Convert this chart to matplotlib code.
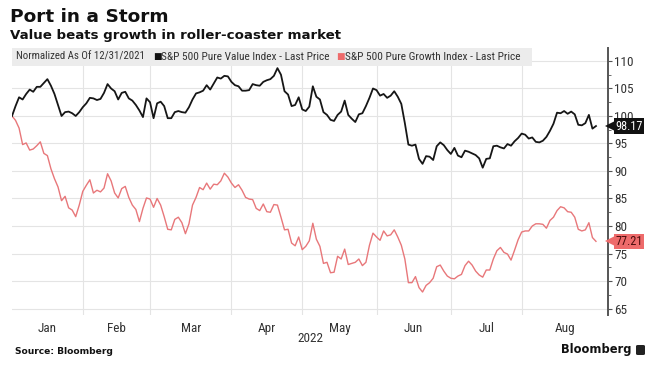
import matplotlib
matplotlib.use("Agg")
import matplotlib.pyplot as plt
from matplotlib import font_manager
from matplotlib.patches import Rectangle, FancyBboxPatch
import numpy as np

# ---------------- data (normalized to 100 at 12/31/2021, one value per trading day) -------------
value_index = [
    100, 101.8, 103.4, 103, 104, 104.8, 104.4, 105.3, 105.3, 106, 106.7, 105.5, 104, 102, 100,
    100.7, 100.8, 100.5, 100, 100.7, 101.6, 102.3, 103.3, 103.2, 102.9, 103.1, 104.2, 105.8, 105,
    104.5, 103, 104.2, 104.4, 103.2, 102.8, 102, 101, 99.8, 103.2, 102.5, 99.6, 102.3, 102.6,
    101.8, 99.6, 99.6, 100.7, 100.9, 100.7, 100.6, 101.6, 103, 104.1, 104.3, 104.6, 105.6, 104.8,
    105.9, 107, 106.8, 107.3, 107.2, 106.2, 105.6, 105.4, 104.6, 104.6, 104.7, 105.8, 105.6, 105.5,
    106.2, 106.5, 106.7, 107.3, 108.7, 107.5, 104.5, 103.9, 101.8, 102, 103.4, 101.2, 100.9, 101.7,
    105.4, 103.5, 103, 100.7, 100.2, 99.3, 99.1, 100.2, 100.8, 102.8, 100.2, 99.5, 98.9, 100.3,
    100.5, 101.8, 103.3, 105, 104.7, 103.7, 104, 103.3, 103.7, 104.5, 103.5, 102.2, 98.7, 94.8,
    94.6, 94.8, 92.2, 91.3, 92.7, 92.6, 92, 94.5, 95.2, 94.7, 93.8, 93.1, 94.2, 92.8, 92.5, 93.7,
    93.5, 93.2, 92.9, 92.3, 90.6, 92.2, 92.3, 94.5, 94.6, 94.3, 94.1, 94.9, 94.6, 95.4, 96, 96.8,
    96.6, 95.9, 96.1, 95.3, 95.2, 95.5, 96.2, 97.3, 98.6, 100.6, 100.5, 100.9, 100.4, 100.8, 100.3,
    98.4, 98.3, 98.7, 100.2, 97.7, 98.17,
]
growth_index = [
    100, 99.2, 97.8, 94.8, 95.1, 93.8, 94, 94.6, 95.3, 93.2, 92.8, 90.4, 88.6, 87.1, 84.6, 85.4,
    83.3, 82.9, 81.7, 83.8, 86.3, 87.4, 88.4, 86, 86.5, 86.2, 86.9, 89.5, 88.2, 86, 85.1, 86.8,
    87.2, 85.2, 83.8, 83, 80.8, 83.2, 85.1, 84.9, 83.4, 85, 83.8, 81.7, 79.4, 79.3, 81.2, 81.6,
    80.6, 78.6, 80.4, 83.8, 85.2, 87, 86.6, 87.8, 86.7, 87.6, 87.5, 88.2, 89.6, 88.9, 87.8, 87,
    87.5, 86.5, 85.2, 84.9, 84.8, 83.2, 82.8, 84, 82.6, 82.5, 83.9, 83.8, 81.6, 79.3, 79.4, 76.9,
    76.4, 78, 75.7, 76.3, 77.3, 80.5, 77.6, 76.3, 73.2, 73.4, 71.5, 71.6, 74.5, 74, 75.8, 73, 73.2,
    73.4, 74, 72.8, 73.4, 76.5, 78.7, 78, 77.4, 79.1, 78.2, 78.4, 79.3, 78, 76.5, 74, 69.7, 69.7,
    70.8, 68.8, 68, 69.2, 69.7, 70.5, 72.6, 72.9, 71.8, 70.9, 70.5, 70.4, 70.9, 71.2, 72.8, 73.6,
    72.9, 71.8, 71.1, 70.7, 72, 72, 74, 75.5, 76.1, 75.2, 74.9, 73.8, 75.6, 77.5, 78.9, 79.1, 79.1,
    80, 80.4, 80.4, 80.3, 79.6, 81, 81.6, 82.8, 83.5, 83.3, 82.6, 82.5, 81.6, 79.4, 79.1, 79.3,
    80.6, 77.9, 77.21,
]
month_labels = ["Jan", "Feb", "Mar", "Apr", "May", "Jun", "Jul", "Aug"]
# trading days per month in 2022 (Jan..Aug, Aug partial through the 29th)
month_trading_days = [20, 19, 23, 20, 21, 21, 20, 21]
year_label = "2022"
last_value = 98.17
last_growth = 77.21
y_ticks = [65, 70, 75, 80, 85, 90, 95, 100, 105, 110]

title = "Port in a Storm"
subtitle = "Value beats growth in roller-coaster market"
legend_note = "Normalized As Of 12/31/2021"
value_name = "S&P 500 Pure Value Index - Last Price"
growth_name = "S&P 500 Pure Growth Index - Last Price"
source = "Source: Bloomberg"
brand = "Bloomberg"

# ---------------- fonts -------------------------------------------------------------------------
avail = {f.name for f in font_manager.fontManager.ttflist}
def pick(cands):
    for c in cands:
        if c in avail:
            return c
    return "DejaVu Sans"
narrow = pick(["Liberation Sans Narrow", "Roboto Condensed", "DejaVu Sans"])
plt.rcParams["font.family"] = [narrow, "DejaVu Sans"]

W, H = 660, 370
fig = plt.figure(figsize=(W / 100, H / 100), dpi=100)
fig.patch.set_facecolor("white")

def fx(px):
    return px / W
def fy(py):
    return 1 - py / H

ax_left, ax_right, ax_top, ax_bot = 12, 608, 48, 315
ax = fig.add_axes([fx(ax_left), fy(ax_bot), (ax_right - ax_left) / W, (ax_bot - ax_top) / H])

x = np.arange(len(value_index))
ax.plot(x, growth_index, color="#e8777a", lw=1.0, zorder=3)
ax.plot(x, value_index, color="#161616", lw=1.3, zorder=4)

ax.set_xlim(0, 168.4)
ax.set_ylim(63.82, 112.36)

# month boundaries (last trading day of previous month)
bounds = np.concatenate([[0], np.cumsum(month_trading_days[:-1])])
ends = list(bounds[1:]) + [168.4]
for b in bounds[1:]:
    ax.axvline(b, color="#e4e4e4", lw=0.8, zorder=1)
for yv in y_ticks:
    ax.axhline(yv, color="#e4e4e4", lw=0.8, zorder=1)

mids = [(a + b) / 2 for a, b in zip(bounds, ends)]
ax.set_xticks(mids)
ax.set_xticklabels(month_labels, fontsize=9.5, color="#333333")
ax.tick_params(axis="x", length=0, pad=5)

ax.yaxis.tick_right()
ax.set_yticks(y_ticks)
ax.set_yticklabels([str(v) for v in y_ticks], fontsize=9.5, color="#333333")
ax.set_yticks(np.arange(65, 112.5, 2.5), minor=True)
ax.tick_params(axis="y", which="major", length=3, width=0.8, color="#555555", pad=1.5)
ax.tick_params(axis="y", which="minor", length=2, width=0.6, color="#555555")

for s in ["top", "left", "bottom"]:
    ax.spines[s].set_visible(False)
ax.spines["right"].set_color("#555555")
ax.spines["right"].set_linewidth(1.4)

# year label
fig.text(fx(310), fy(338), year_label, fontsize=9.5, color="#333333", ha="center", va="center")

# last-value tags
ytr = ax.get_yaxis_transform()
for val, fc, tc in [(last_value, "#111111", "white"), (last_growth, "#ee6b6b", "#4a0c0c")]:
    ax.text(1.012, val, f"{val:.2f}", transform=ytr, fontsize=8.8, color=tc, ha="left",
            va="center", zorder=10, clip_on=False,
            bbox=dict(boxstyle="square,pad=0.1", fc=fc, ec="none"))
    ax.plot([1.004], [val], marker="<", ms=6.5, color=fc, transform=ytr, clip_on=False, zorder=10,
            markeredgewidth=0)

# legend strip
fig.add_artist(Rectangle((fx(12), fy(66)), (532 - 12) / W, 18 / H, transform=fig.transFigure,
                         facecolor="#ececec", edgecolor="none", zorder=1))
ly = fy(57)
fs_leg = 8.2
fig.text(fx(16), ly, legend_note, fontsize=7.8, color="#333333", va="center", zorder=2)
fig.text(fx(153), ly, "■", fontsize=6.5, color="#111111", va="center", zorder=2,
         family="DejaVu Sans")
fig.text(fx(161), ly, value_name, fontsize=fs_leg, color="#333333", va="center", zorder=2)
fig.text(fx(336), ly, "■", fontsize=6.5, color="#ee6b6b", va="center", zorder=2,
         family="DejaVu Sans")
fig.text(fx(345), ly, growth_name, fontsize=fs_leg, color="#333333", va="center", zorder=2)

# titles
fig.text(fx(10), fy(17), title, fontsize=13.3, fontweight="bold", color="#111111", va="center",
         family="DejaVu Sans")
fig.text(fx(10), fy(35), subtitle, fontsize=9.6, fontweight="bold", color="#111111",
         va="center", family="DejaVu Sans")

# footer
fig.text(fx(15), fy(352), source, fontsize=6.6, fontweight="bold", color="#111111", va="center",
         family="DejaVu Sans")
fig.text(fx(631), fy(350), brand, fontsize=8.3, fontweight="bold", color="#111111", va="center",
         ha="right", family="DejaVu Sans")
fig.add_artist(FancyBboxPatch((fx(636), fy(355)), 9 / W, 10 / H,
                              boxstyle="round,pad=0.0,rounding_size=0.003",
                              transform=fig.transFigure, facecolor="#222222", edgecolor="none"))

fig.savefig("out.png", dpi=100, facecolor="white")
